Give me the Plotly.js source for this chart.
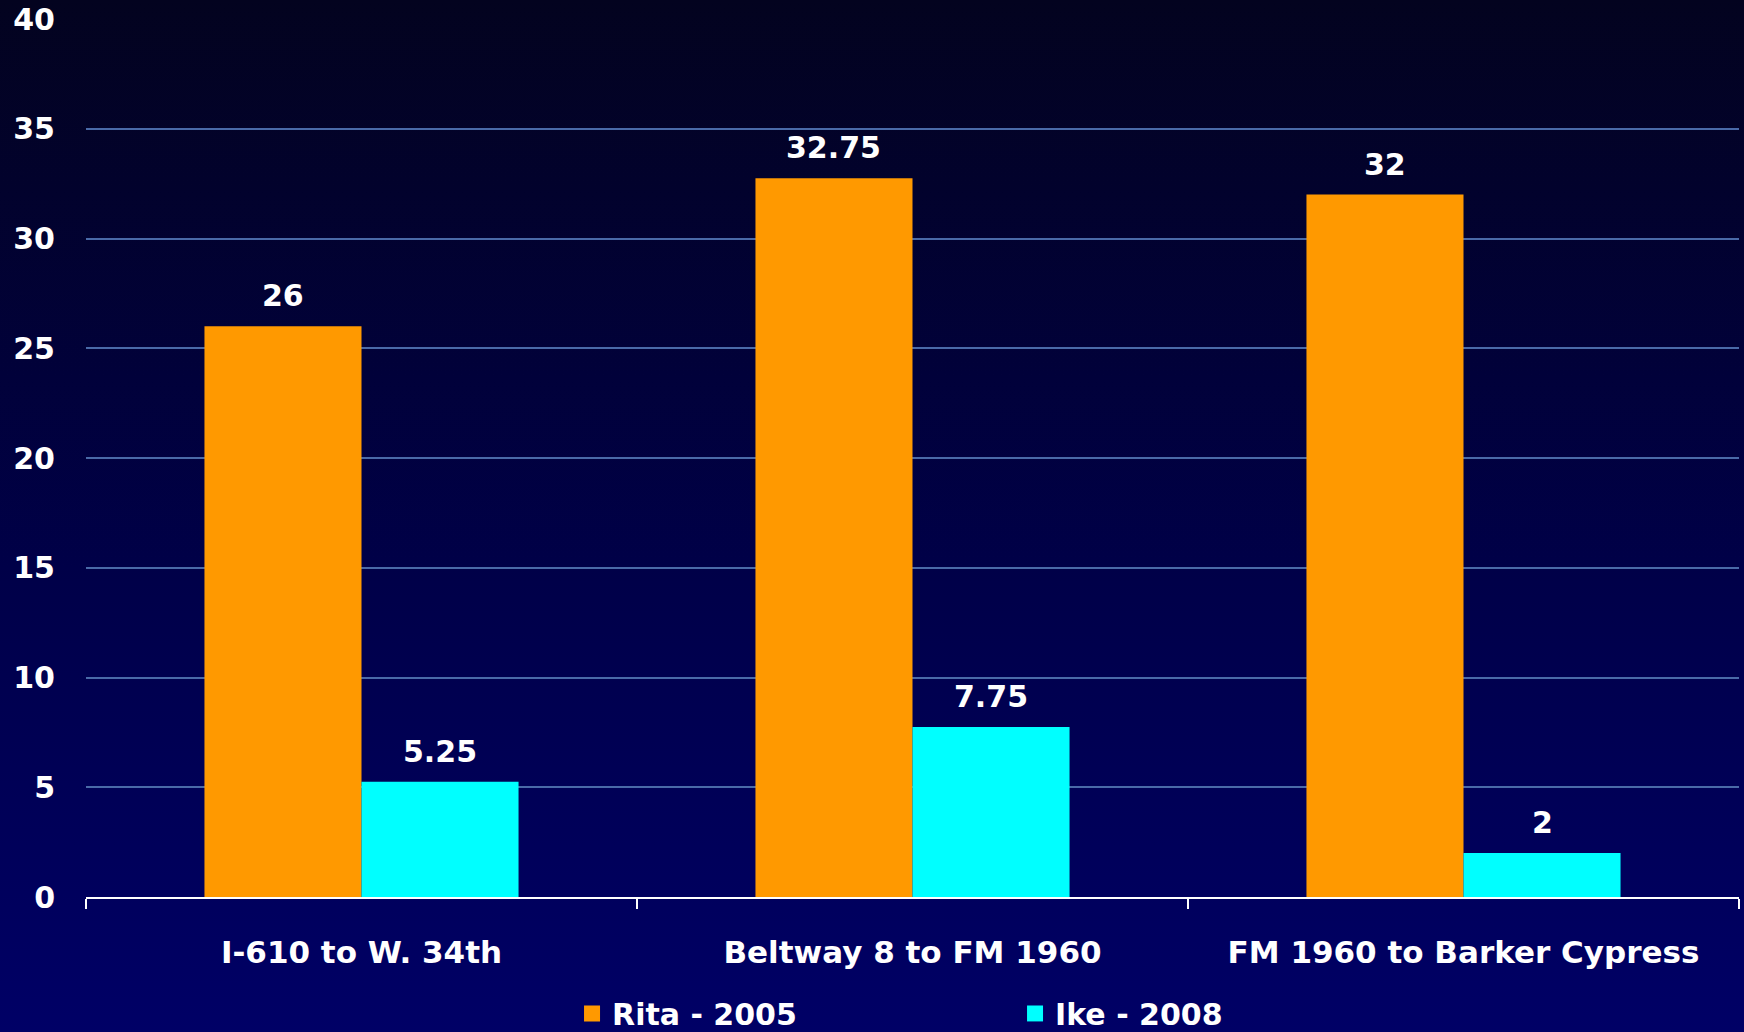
<!DOCTYPE html>
<html>
<head>
<meta charset="utf-8">
<script src="https://cdn.plot.ly/plotly-3.0.1.min.js"></script>
<style>
  html, body { margin: 0; padding: 0; }
  body { width: 1744px; height: 1032px; background: linear-gradient(#03031f, #000048 55%, #000066); }
  #myDiv { width: 1744px; height: 1032px; }
</style>
</head>
<body>
<div id="myDiv"></div>
<script>
// Datos de la grafica
var tramos = ['I-610 to W. 34th', 'Beltway 8 to FM 1960', 'FM 1960 to Barker Cypress'];
var rita = [26, 32.75, 32];
var ike = [5.25, 7.75, 2];
var nombres = ['Rita - 2005', 'Ike - 2008'];
var colores = ['#ff9900', '#00ffff'];

var fuente = 'DejaVu Sans';
var hueco = 0.43; // bargap
var mitad = (1 - hueco) / 4; // centro de cada barra respecto a la categoria

var series = [rita, ike];
var data = [];
var anotaciones = [];

series.forEach(function (vals, s) {
    data.push({
        type: 'bar',
        x: tramos,
        y: vals,
        marker: { color: colores[s] },
        showlegend: false,
        hoverinfo: 'none'
    });
    // trazo vacio solo para la leyenda (cuadro mas grande)
    data.push({
        type: 'scatter',
        mode: 'markers',
        x: [null],
        y: [null],
        name: nombres[s],
        marker: { symbol: 'square', size: 16, color: colores[s] },
        hoverinfo: 'none'
    });
    vals.forEach(function (v, i) {
        anotaciones.push({
            x: i + (s === 0 ? -mitad : mitad),
            y: v,
            xref: 'x',
            yref: 'y',
            text: String(v),
            showarrow: false,
            yanchor: 'bottom',
            yshift: 11,
            font: { family: fuente, size: 30, color: 'white', weight: 'bold' }
        });
    });
});

var layout = {
    width: 1744,
    height: 1032,
    paper_bgcolor: 'rgba(0,0,0,0)',
    plot_bgcolor: 'rgba(0,0,0,0)',
    margin: { l: 86, r: 5, t: 19, b: 135 },
    barmode: 'group',
    bargap: hueco,
    bargroupgap: 0,
    font: { family: fuente, color: 'white', weight: 'bold' },
    xaxis: {
        type: 'category',
        tickson: 'boundaries',
        ticks: 'outside',
        ticklen: 10,
        tickwidth: 2,
        tickcolor: 'white',
        showline: true,
        linecolor: 'white',
        linewidth: 2,
        showgrid: false,
        ticklabelstandoff: 27,
        tickfont: { family: fuente, size: 31, color: 'white', weight: 'bold' }
    },
    yaxis: {
        range: [0, 40],
        dtick: 5,
        showline: false,
        zeroline: false,
        gridcolor: '#4a6aa8',
        gridwidth: 2,
        ticklabelstandoff: 30,
        tickfont: { family: fuente, size: 30, color: 'white', weight: 'bold' }
    },
    legend: {
        orientation: 'h',
        xref: 'container',
        yref: 'container',
        x: 0.328,
        xanchor: 'left',
        y: 0.018,
        yanchor: 'middle',
        entrywidth: 398,
        entrywidthmode: 'pixels',
        bgcolor: 'rgba(0,0,0,0)',
        font: { family: fuente, size: 30, color: 'white', weight: 'bold' }
    },
    annotations: anotaciones
};

var config = { staticPlot: true };

Plotly.newPlot('myDiv', data, layout, config);
</script>
</body>
</html>
